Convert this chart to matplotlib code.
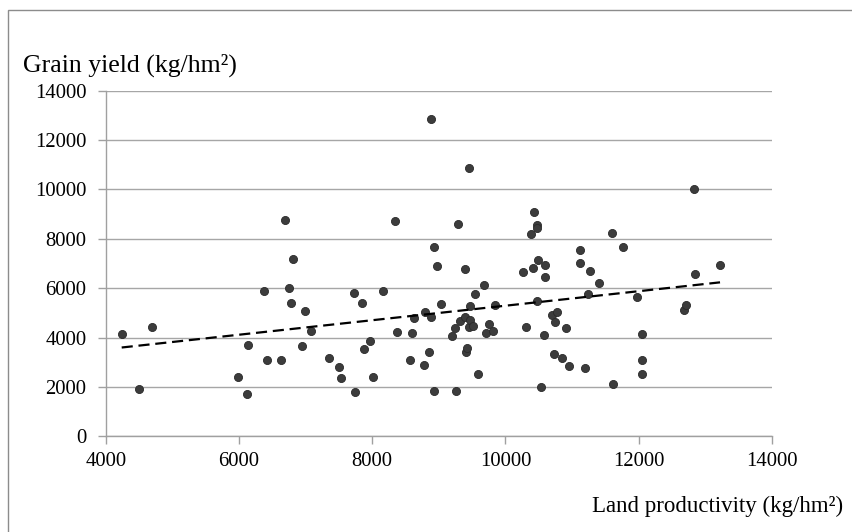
import numpy as np
import matplotlib
matplotlib.use("Agg")
import matplotlib.pyplot as plt
from matplotlib.patches import Rectangle

# Land productivity (kg/hm2) per sample
land_productivity = [
    4240, 4500, 4690, 5985, 6120, 6140, 6380, 6415, 6625, 6690,
    6754, 6780, 6810, 6950, 6985, 7075, 7350, 7500, 7530, 7720,
    7735, 7845, 7875, 7970, 8010, 8165, 8340, 8370, 8565, 8600,
    8630, 8770, 8785, 8845, 8880, 8880, 8925, 8925, 8970, 9035,
    9200, 9245, 9260, 9290, 9320, 9390, 9395, 9400, 9425, 9445,
    9460, 9465, 9470, 9510, 9540, 9585, 9675, 9715, 9755, 9820,
    9845, 10260, 10310, 10380, 10415, 10430, 10470, 10475, 10480, 10495,
    10540, 10585, 10590, 10600, 10705, 10725, 10740, 10775, 10850, 10910,
    10955, 11115, 11115, 11200, 11235, 11265, 11400, 11600, 11615, 11770,
    11970, 12045, 12045, 12045, 12675, 12705, 12830, 12845, 13220,
]

# Grain yield (kg/hm2) per sample
grain_yield = [
    4150, 1930, 4440, 2400, 1730, 3690, 5900, 3110, 3110, 8780,
    6010, 5400, 7190, 3650, 5070, 4280, 3190, 2810, 2350, 5810,
    1810, 5400, 3530, 3850, 2400, 5890, 8740, 4240, 3110, 4190,
    4810, 2890, 5040, 3430, 4840, 12870, 1850, 7650, 6910, 5370,
    4070, 4390, 1850, 8610, 4660, 4850, 6770, 3430, 3570, 4440,
    10870, 5270, 4720, 4470, 5780, 2530, 6110, 4180, 4530, 4280,
    5320, 6650, 4440, 8200, 6810, 9070, 8540, 8450, 5490, 7150,
    1990, 4110, 6950, 6450, 4910, 3350, 4610, 5040, 3190, 4400,
    2850, 7530, 7030, 2780, 5780, 6700, 6200, 8240, 2110, 7660,
    5650, 4150, 3110, 2530, 5130, 5310, 10000, 6570, 6950,
]

x_ticks = [4000, 6000, 8000, 10000, 12000, 14000]
y_ticks = [0, 2000, 4000, 6000, 8000, 10000, 12000, 14000]

plt.rcParams["font.family"] = ["Liberation Serif", "DejaVu Serif"]

fig = plt.figure(figsize=(8.53, 5.32), dpi=100)
ax = fig.add_axes([105.7 / 853, 1 - 436.3 / 532, (772 - 105.7) / 853, (436.3 - 90.7) / 532])

# outer chart frame
fig.patches.append(Rectangle((8 / 853, -0.05), 1.2, 1 - 10 / 532 + 0.05,
                             transform=fig.transFigure, fill=False,
                             edgecolor="#8c8c8c", linewidth=1.0, zorder=0))

x = np.array(land_productivity, dtype=float)
y = np.array(grain_yield, dtype=float)

ax.scatter(x, y, s=34, color="#3c3c3c", edgecolors="#2a2a2a", linewidths=0.6, zorder=3)

# least-squares trend line
slope, intercept = np.polyfit(x, y, 1)
xs = np.linspace(x.min(), x.max(), 200)
ax.plot(xs, intercept + slope * xs, color="black", linestyle=(0, (5, 2.6)),
        linewidth=1.6, zorder=4)

ax.set_xlim(4000, 14000)
ax.set_ylim(0, 14000)
ax.set_xticks(x_ticks)
ax.set_yticks(y_ticks)
ax.set_xticklabels([str(t) for t in x_ticks])
ax.set_yticklabels([str(t) for t in y_ticks])

ax.grid(axis="y", color="#a6a6a6", linewidth=1.0)
ax.set_axisbelow(True)
for side in ("top", "right"):
    ax.spines[side].set_visible(False)
for side in ("left", "bottom"):
    ax.spines[side].set_color("#a0a0a0")
    ax.spines[side].set_linewidth(1.0)
ax.tick_params(axis="both", colors="#a0a0a0", length=6, width=1.0,
               labelcolor="black", labelsize=14.9)
ax.tick_params(axis="y", pad=8)
ax.tick_params(axis="x", pad=5)

fig.text(22.7 / 853, 1 - 72 / 532, "Grain yield (kg/hm²)", fontsize=18.5,
         ha="left", va="baseline")
fig.text(843 / 853, 1 - 512 / 532, "Land productivity (kg/hm²)", fontsize=16.5,
         ha="right", va="baseline")

fig.savefig("out.png", dpi=100)
